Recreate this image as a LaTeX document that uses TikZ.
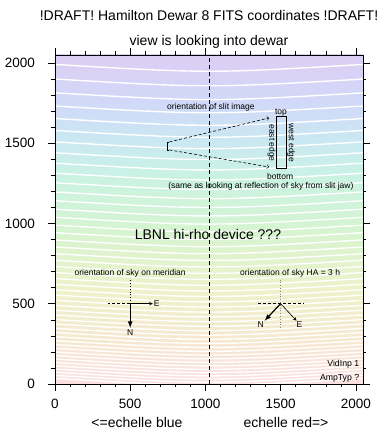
\documentclass[tikz,border=0pt]{standalone}
\usepackage{fontspec}
\setmainfont{Liberation Sans}
\usepackage{tikz}
\usetikzlibrary{positioning}

\definecolor{bandpink}{HTML}{FCE0E2}
\definecolor{bandpeach}{HTML}{F6E8D0}
\definecolor{bandyellow}{HTML}{EEF2CA}
\definecolor{bandgreen}{HTML}{D6F4D0}
\definecolor{bandmint}{HTML}{CAF2E4}
\definecolor{bandcyan}{HTML}{CAE8F2}
\definecolor{bandblue}{HTML}{D2D8F8}
\definecolor{bandlilac}{HTML}{DCCEF4}
\pgfdeclareverticalshading{dewarbands}{100bp}{color(0bp)=(bandpink); color(25bp)=(bandpink);
  color(31.7bp)=(bandpeach); color(39.3bp)=(bandyellow); color(48.4bp)=(bandgreen);
  color(56.8bp)=(bandmint); color(62.1bp)=(bandcyan); color(68.2bp)=(bandblue);
  color(75bp)=(bandlilac); color(100bp)=(bandlilac)}

\begin{document}
\begin{tikzpicture}[x=0.15039pt, y=0.16064pt,
        order/.style={white, line width=1.4pt},
        frame/.style={draw=black, line width=0.9pt},
        ticklab/.style={inner sep=0pt, font=\fontsize{13.5}{16}\selectfont},
        biglab/.style={inner sep=0pt, font=\fontsize{14}{17}\selectfont},
        small/.style={inner sep=1pt, font=\fontsize{8.5}{10}\selectfont},
        skydot/.style={dotted, line width=0.8pt},
        skydash/.style={dash pattern=on 3pt off 2pt, line width=0.6pt},
        north/.style={line width=1.2pt, -latex},
        east/.style={line width=0.6pt, -stealth}
      ]
        \useasboundingbox (-365.7,-348.6) rectangle (2201.0,2390.4);

        % detector background and echelle orders
        \shade[shading=dewarbands] (0,0) rectangle (2048,2048);
        \begin{scope}
          \clip (0,0) rectangle (2048,2048);
          \foreach \m in {38,...,85} {
            \pgfmathsetmacro\yo{-1573+3534*(38/\m)}
            \draw[order] (0,\yo+28) .. controls (1024,\yo-28) .. (2048,\yo+28);
          }
        \end{scope}
        \draw[dash pattern=on 4pt off 3pt] (1024,0) -- (1024,2048);
        \draw[frame] (0,0) rectangle (2048,2048);

        % ticks
        \foreach \t in {0,100,...,2000} {
          \draw (\t,0) -- ++(0,-3.5pt);
          \draw (\t,2048) -- ++(0,3.5pt);
          \draw (0,\t) -- ++(-3.5pt,0);
          \draw (2048,\t) -- ++(3.5pt,0);
        }
        \foreach \t in {0,500,...,2000} {
          \draw (\t,0) -- ++(0,-7pt);
          \draw (\t,2048) -- ++(0,7pt);
          \draw (0,\t) -- ++(-7pt,0);
          \draw (2048,\t) -- ++(7pt,0);
          \node[ticklab]              (xlab\t) at (\t,-124.5) {\t};
          \node[ticklab, anchor=east] (ylab\t) at (-133,\t)   {\t};
        }

        % titles
        \node[biglab] (title)  at (1024,2297) {!DRAFT! Hamilton Dewar 8 FITS coordinates !DRAFT!};
        \node[biglab] (view)   at (1024,2129) {view is looking into dewar};
        \node[biglab] (blue)   at (545,-236.6)  {<=echelle blue};
        \node[biglab] (red)    at (1536,-236.6) {echelle red=>};
        \node[biglab] (device) at (1017,928)  {LBNL hi-rho device ???};

        % slit image
        \node[small] (slittitle) at (1037,1724) {orientation of slit image};
        \coordinate (slitT) at (761,1507);
        \coordinate (slitB) at (761,1457);
        \draw (slitT) -- (745,1507) -- (745,1457) -- (slitB);
        \draw (1472,1344) rectangle (1536,1664);
        \coordinate (imgT) at (1423,1656);
        \coordinate (imgB) at (1423,1351);
        \draw[skydash, ->] (slitT) -- (imgT);
        \draw[skydash, ->] (slitB) -- (imgB);
        \node[small] (top)      at (1503,1687) {top};
        \node[small] (bottom)   at (1497,1295) {bottom};
        \node[small, rotate=-90] (eastedge) at (1440,1500) {east edge};
        \node[small, rotate=-90] (westedge) at (1569,1500) {west edge};
        \node[small] (jaw) at (1369,1233) {(same as looking at reflection of sky from slit jaw)};

        % sky on meridian
        \node[small] (mertitle) at (500,691) {orientation of sky on meridian};
        \coordinate (mer) at (500,500);
        \draw[skydot] (mer) -- ++(0,150);
        \draw[skydash] (mer) -- ++(-150,0);
        \draw[east]  (mer) -- ++(150,0) coordinate (merE);
        \draw[north] (mer) -- ++(0,-150) coordinate (merN);
        \node[small] (merElab) [right=0pt of merE] {E};
        \node[small] (merNlab) [below=1pt of merN] {N};

        % sky at HA = 3 h
        \node[small] (hatitle) at (1563,691) {orientation of sky HA = 3 h};
        \coordinate (ha) at (1500,500);
        \draw[skydot, gray] (ha) ++(0,150) -- ++(0,-300);
        \draw[skydash] (ha) ++(-150,0) -- ++(300,0);
        \draw[north] (ha) -- ++(-106,-106) coordinate (haN);
        \draw[east]  (ha) -- ++(106,-106) coordinate (haE);
        \node[small] (haNlab) [below=0pt of haN, xshift=-4pt] {N};
        \node[small] (haElab) [below=0pt of haE, xshift=3pt] {E};

        % readout info
        \node[small, inner sep=0pt, anchor=base east, font=\fontsize{8.7}{10}\selectfont] (vid) at (2024,112) {VidInp 1};
        \node[small, inner sep=0pt, anchor=base east, font=\fontsize{8.7}{10}\selectfont] (amp) at (2024,19)  {AmpTyp ?};
      \end{tikzpicture}
\end{document}
